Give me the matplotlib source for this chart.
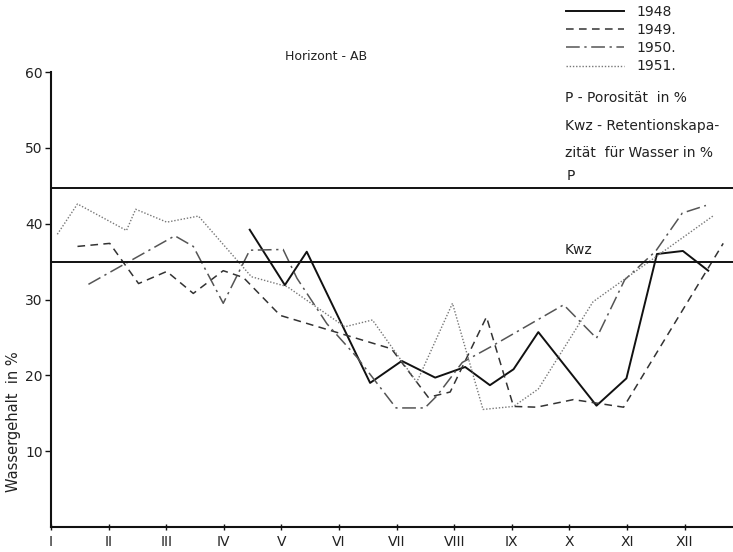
import matplotlib
matplotlib.use("Agg")
import matplotlib.pyplot as plt

# month positions (I = 1 ... XII = 12) and water content in %
months_1948 = [4.45, 5.06, 5.44, 6.54, 7.09, 7.67, 8.19, 8.62, 9.03, 9.46, 10.47, 10.99, 11.52, 11.97, 12.41]
vals_1948 = [39.2, 31.9, 36.3, 19.0, 21.9, 19.7, 21.1, 18.7, 20.8, 25.7, 16.0, 19.6, 36.0, 36.4, 33.8]

months_1949 = [1.46, 2.02, 2.52, 3.01, 3.47, 3.99, 4.34, 4.98, 6.91, 7.55, 7.93, 8.56, 9.03, 9.43, 10.07, 10.94, 12.67]
vals_1949 = [37.0, 37.4, 32.1, 33.7, 30.8, 33.8, 32.9, 27.9, 23.5, 17.1, 17.8, 27.7, 15.9, 15.8, 16.8, 15.8, 37.4]

months_1950 = [1.65, 3.15, 3.47, 3.99, 4.45, 5.03, 5.27, 5.79, 6.31, 6.99, 7.49, 7.70, 8.14, 8.62,
               9.90, 10.47, 10.96, 11.50, 11.96, 12.37]
vals_1950 = [32.0, 38.4, 37.0, 29.5, 36.5, 36.6, 32.8, 26.8, 22.4, 15.7, 15.7, 17.3, 21.7, 23.7,
             29.3, 24.9, 32.6, 36.4, 41.4, 42.4]

months_1951 = [1.11, 1.46, 2.31, 2.47, 3.01, 3.56, 4.48, 5.10, 6.10, 6.58, 7.35, 7.97, 8.50, 9.03, 9.46, 10.41, 12.49]
vals_1951 = [38.6, 42.6, 39.1, 41.9, 40.2, 41.0, 33.0, 31.7, 26.4, 27.3, 19.1, 29.5, 15.5, 15.9, 18.2, 29.7, 41.0]

porosity = 44.7   # P
kwz = 35.0        # Kwz

month_labels = ["I", "II", "III", "IV", "V", "VI", "VII", "VIII", "IX", "X", "XI", "XII"]
y_ticks = [10, 20, 30, 40, 50, 60]

plt.rcParams['font.family'] = ['DejaVu Sans']
txt = '#222222'

fig = plt.figure(figsize=(7.33, 5.52), dpi=100)
ax = fig.add_axes([51 / 733, 25 / 552, 1 - 51 / 733, 455 / 552])

l48, = ax.plot(months_1948, vals_1948, color='#111111', lw=1.4, ls='-')
l49, = ax.plot(months_1949, vals_1949, color='#333333', lw=1.1, ls=(0, (5, 3.5)))
l50, = ax.plot(months_1950, vals_1950, color='#555555', lw=1.1, ls=(0, (9, 3, 1.5, 3)))
l51, = ax.plot(months_1951, vals_1951, color='#777777', lw=1.0, ls=(0, (1, 1.3)))

ax.axhline(porosity, color='#111111', lw=1.4)
ax.axhline(kwz, color='#111111', lw=1.4)
ax.text(9.96, porosity + 0.6, "P", color=txt, fontsize=10, va='bottom', ha='left')
ax.text(9.92, kwz + 0.6, "Kwz", color=txt, fontsize=10, va='bottom', ha='left')

ax.set_xlim(1, 12.84)
ax.set_ylim(0, 60)
ax.set_xticks(range(1, 13))
ax.set_xticklabels(month_labels, color=txt, fontsize=10)
ax.set_yticks(y_ticks)
ax.set_yticklabels([str(t) for t in y_ticks], color=txt, fontsize=10)
ax.tick_params(axis='x', direction='inout', length=5, width=1, color='#111111', pad=3)
ax.tick_params(axis='y', direction='out', length=4, width=1, color='#111111', pad=2)
for s in ['top', 'right']:
    ax.spines[s].set_visible(False)
for s in ['left', 'bottom']:
    ax.spines[s].set_linewidth(1.5)
    ax.spines[s].set_color('#111111')

leg = ax.legend([l48, l49, l50, l51], ["1948", "1949.", "1950.", "1951."],
                loc='upper left', bbox_to_anchor=(566 / 733, 1 - 5 / 552),
                bbox_transform=fig.transFigure, frameon=False, fontsize=10,
                handlelength=4.2, labelspacing=0.3, borderpad=0, borderaxespad=0,
                handletextpad=0.9)
for t in leg.get_texts():
    t.set_color(txt)

fig.text(326 / 733, 1 - 56 / 552, "Horizont - AB", ha='center', va='center', fontsize=9, color=txt)
fig.text(565 / 733, 1 - 98 / 552, "P - Porosität  in %", ha='left', va='center', fontsize=10, color=txt)
fig.text(565 / 733, 1 - 126 / 552, "Kwz - Retentionskapa-", ha='left', va='center', fontsize=10, color=txt)
fig.text(565 / 733, 1 - 153 / 552, "zität  für Wasser in %", ha='left', va='center', fontsize=10, color=txt)
fig.text(14 / 733, 1 - 422 / 552, "Wassergehalt  in %", rotation=90, ha='center', va='center',
         fontsize=10.5, color=txt)

fig.savefig("out.png", dpi=100)
